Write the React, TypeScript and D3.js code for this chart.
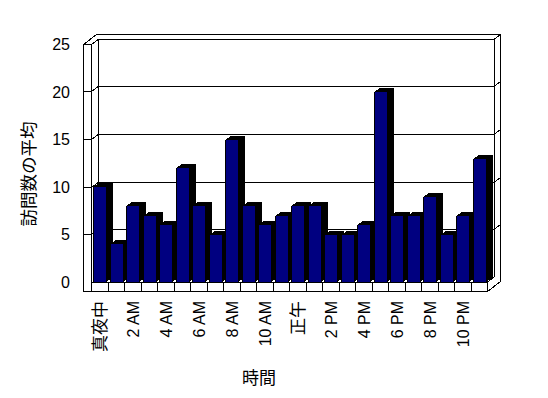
import * as d3 from "d3"

// hourly averages (0:00 .. 23:00)
const hours = d3.range(24).map((h) => String(h))
const visits = [10, 4, 8, 7, 6, 12, 8, 5, 15, 8, 6, 7, 8, 8, 5, 5, 6, 20, 7, 7, 9, 5, 7, 13]
const hourLabels = ["真夜中", "2 AM", "4 AM", "6 AM", "8 AM", "10 AM", "正午", "2 PM", "4 PM", "6 PM", "8 PM", "10 PM"]
const yTicks = [0, 5, 10, 15, 20, 25]

const W = 548
const H = 398
const LATIN = "'Liberation Sans', 'Noto Sans CJK JP', sans-serif"
const CJK = "'Noto Sans CJK JP', sans-serif"

export default function App() {
  // front plane of the box
  const left = 83.5
  const inner = 91.5
  const right = 487.5
  const floorTop = 282
  const floorBottom = 291.5
  const top = 44.5
  // depth offsets (wall face / back of wall)
  const dx = 6.5
  const dy = -5
  const bdx = 6.5
  const bdy = -4.5

  const y = d3.scaleLinear().domain([0, 25]).range([floorTop, top])
  const x = d3.scaleBand<string>().domain(hours).range([inner, right])
  const step = x.step()
  const barW = step * 0.76
  const barOff = step * 0.1

  const pts = (p: number[][]) => p.map((q) => q.join(",")).join(" ")
  const r = (v: number) => Math.round(v - 0.5) + 0.5

  const outline = pts([
    [left, top],
    [left + 2 * dx, top + 2 * dy],
    [right + 2 * dx, top + 2 * dy],
    [right + 2 * dx, floorBottom + 2 * dy],
    [right, floorBottom],
    [left, floorBottom],
  ])

  const bx0 = inner + dx
  const bx1 = right + dx
  const line = { stroke: "#000", strokeWidth: 1, fill: "none" }

  return (
    <div style={{ position: "absolute", left: 0, top: 0 }}>
      <svg width={W} height={H} style={{ display: "block", background: "#fff" }}>
        <g shapeRendering="crispEdges">
          <polygon points={outline} fill="#fff" {...line} />
          {/* walls */}
          <line x1={left} y1={top} x2={inner} y2={top} {...line} />
          <line x1={inner} y1={top} x2={inner} y2={floorTop} {...line} />
          <line x1={inner} y1={top} x2={bx0} y2={top + dy} {...line} />
          <line x1={bx0} y1={top + dy} x2={bx0} y2={floorTop + dy} {...line} />
          <line x1={bx1} y1={top + dy} x2={bx1} y2={floorTop + dy} {...line} />
          <line x1={bx1} y1={top + dy} x2={bx1 + dx} y2={top + 2 * dy} {...line} />
          {/* floor */}
          <line x1={inner} y1={floorTop} x2={right} y2={floorTop} {...line} />
          <line x1={right} y1={floorTop} x2={bx1} y2={floorTop + dy} {...line} />
          <line x1={bx0} y1={floorTop + dy} x2={bx1} y2={floorTop + dy} {...line} />
          <line x1={right} y1={floorTop} x2={right} y2={floorBottom} {...line} />
          {/* gridlines */}
          {yTicks.slice(1).map((t) => (
            <g key={t}>
              <line x1={left} y1={r(y(t))} x2={inner} y2={r(y(t))} {...line} />
              <line x1={inner} y1={r(y(t))} x2={bx0} y2={r(y(t)) + dy} {...line} />
              <line x1={bx0} y1={r(y(t)) + dy} x2={bx1} y2={r(y(t)) + dy} {...line} />
              <line x1={bx1} y1={r(y(t)) + dy} x2={bx1 + dx} y2={r(y(t)) + 2 * dy} {...line} />
            </g>
          ))}
          {/* category dividers on floor front */}
          {hours.map((h) => (
            <line key={h} x1={r(x(h)!)} y1={floorTop} x2={r(x(h)!)} y2={floorBottom} {...line} />
          ))}
          {/* bars */}
          {hours.map((h, i) => {
            const fl = Math.round(x(h)! + barOff)
            const fr = Math.round(fl + barW)
            const ty = Math.round(y(visits[i]))
            const by = Math.round(y(0))
            return (
              <g key={h}>
                <polygon
                  points={pts([[fr, ty], [fr + bdx, ty + bdy], [fr + bdx, by + bdy], [fr, by]])}
                  fill="#000"
                />
                <polygon
                  points={pts([[fl, ty], [fl + bdx, ty + bdy], [fr + bdx, ty + bdy], [fr, ty]])}
                  fill="#000"
                />
                <rect x={fl} y={ty} width={fr - fl} height={by - ty} fill="#000080" />
                <line x1={fl + 0.5} y1={ty} x2={fl + 0.5} y2={by} stroke="#000" strokeWidth={1} />
              </g>
            )
          })}
        </g>
        {/* y tick labels */}
        {yTicks.map((t) => (
          <text key={t} x={70} y={y(t)} dy="0.36em" textAnchor="end" fontFamily={LATIN} fontSize={16} fill="#000">
            {t}
          </text>
        ))}
        {/* x tick labels, every 2 hours */}
        {hourLabels.map((lab, k) => {
          const cx = x(hours[k * 2])! + step / 2
          return (
            <text
              key={lab}
              transform={`translate(${cx},${301}) rotate(-90)`}
              dy="0.36em"
              textAnchor="end"
              fontFamily={LATIN}
              fontSize={/[A-Z]/.test(lab) ? 16 : 17}
              fill="#000"
            >
              {lab}
            </text>
          )
        })}
        <text
          transform={`translate(29,${174}) rotate(-90)`}
          dy="0.36em"
          textAnchor="middle"
          fontFamily={CJK}
          fontSize={17.5}
          fill="#000"
        >
          訪問数の平均
        </text>
        <text x={259} y={378} dy="0.36em" textAnchor="middle" fontFamily={CJK} fontSize={17} fill="#000">
          時間
        </text>
      </svg>
    </div>
  )
}
